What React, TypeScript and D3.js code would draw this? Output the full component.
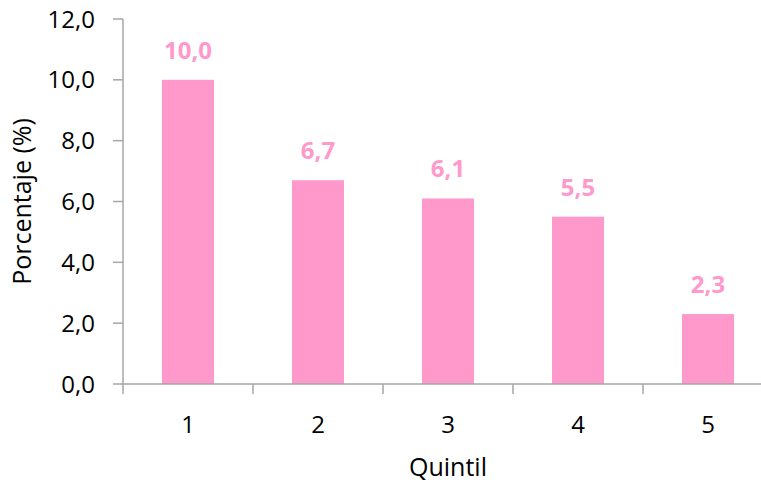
import React from "react";
import * as d3 from "d3";

const categories = ["1", "2", "3", "4", "5"];
const values = [10.0, 6.7, 6.1, 5.5, 2.3];
const yTicks = [0, 2, 4, 6, 8, 10, 12];
const yLabel = "Porcentaje (%)";
const xLabel = "Quintil";

const W = 761;
const H = 482;
const left = 123;
const right = 773;
const top = 19;
const bottom = 384;
const font = "'Open Sans', 'Noto Sans', sans-serif";
const pink = "#FF99CC";
const axisColor = "#A6A6A6";

const fmt = (v: number) => v.toFixed(1).replace(".", ",");

export default function App() {
  const x = d3.scaleBand<string>().domain(categories).range([left, right]).paddingInner(0).paddingOuter(0);
  const y = d3.scaleLinear().domain([0, 12]).range([bottom, top]);
  const bw = x.bandwidth() * 0.4;
  return (
    <svg width={W} height={H} style={{ position: "absolute", left: 0, top: 0, background: "#fff" }}>
      {values.map((v, i) => {
        const cx = (x(categories[i]) as number) + x.bandwidth() / 2;
        return (
          <g key={i}>
            <rect x={cx - bw / 2} y={y(v)} width={bw} height={y(0) - y(v)} fill={pink} />
            <text x={cx} y={y(v) - 21} textAnchor="middle" fontFamily={font} fontWeight="bold" fontSize={24} fill={pink}>
              {fmt(v)}
            </text>
          </g>
        );
      })}
      <line x1={left} x2={left} y1={top} y2={bottom} stroke={axisColor} strokeWidth={1.5} />
      {yTicks.map((t) => (
        <g key={t}>
          <line x1={left - 10} x2={left} y1={y(t)} y2={y(t)} stroke={axisColor} strokeWidth={1.5} />
          <text x={95} y={y(t)} dy="0.36em" textAnchor="end" fontFamily={font} fontSize={24} fill="#000">
            {fmt(t)}
          </text>
        </g>
      ))}
      <line x1={left} x2={right} y1={bottom} y2={bottom} stroke={axisColor} strokeWidth={1.5} />
      {categories.map((c, i) => (
        <line key={"b" + i} x1={x(c) as number} x2={x(c) as number} y1={bottom} y2={bottom + 10} stroke={axisColor} strokeWidth={1.5} />
      ))}
      <line x1={right} x2={right} y1={bottom} y2={bottom + 10} stroke={axisColor} strokeWidth={1.5} />
      {categories.map((c) => (
        <text key={c} x={(x(c) as number) + x.bandwidth() / 2} y={433} textAnchor="middle" fontFamily={font} fontSize={24} fill="#000">
          {c}
        </text>
      ))}
      <text x={(left + right) / 2} y={476} textAnchor="middle" fontFamily={font} fontSize={25} fill="#000">
        {xLabel}
      </text>
      <text transform={`translate(31, ${(top + bottom) / 2}) rotate(-90)`} textAnchor="middle" fontFamily={font} fontSize={25} fill="#000">
        {yLabel}
      </text>
    </svg>
  );
}
